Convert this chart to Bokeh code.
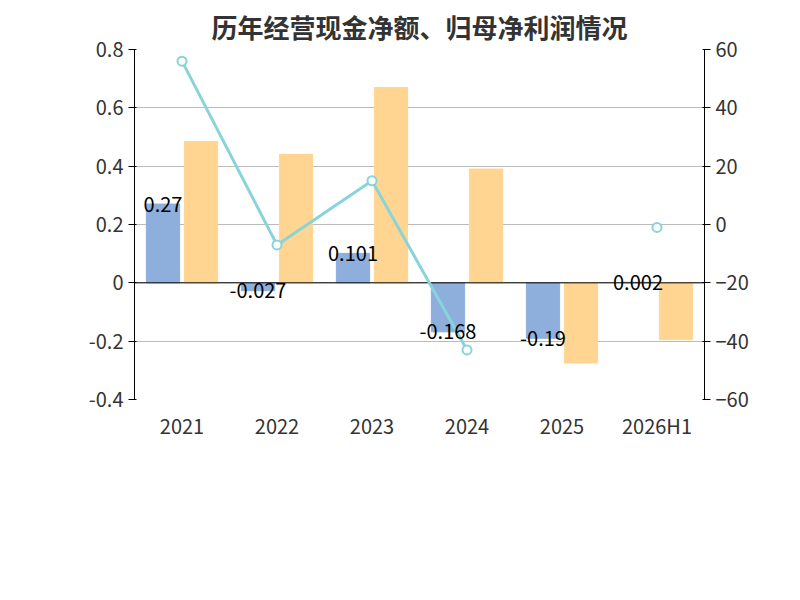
from bokeh.plotting import figure
from bokeh.models import Range1d, LinearAxis, Legend, LegendItem, Title, Label, ColumnDataSource, FixedTicker
from bokeh.embed import file_html
from bokeh.resources import INLINE
import math

years = ["2021", "2022", "2023", "2024", "2025", "2026H1"]
cash = [0.27, -0.027, 0.101, -0.168, -0.19, 0.002]
profit = [0.485, 0.44, 0.67, 0.39, -0.275, -0.195]
ratio = [56, -7, 15, -43, float("nan"), -1]

F = "Noto Sans CJK SC"
xs = list(range(len(years)))
p = figure(frame_width=570, frame_height=350, output_backend="svg", toolbar_location=None,
           x_range=Range1d(-0.5, 5.5), y_range=Range1d(-0.4, 0.8),
           min_border_left=134, min_border_right=80, min_border_top=30, min_border_bottom=10)
p.extra_y_ranges = {"r": Range1d(-60, 60)}
p.outline_line_color = None
p.title = Title(text="历年经营现金净额、归母净利润情况", align="center", text_font=F,
                text_font_size="26px", text_font_style="bold", text_color="#333333")

b1 = p.vbar(x=[x - 0.2 for x in xs], top=cash, width=0.35, color="#8eaedb")
b2 = p.vbar(x=[x + 0.2 for x in xs], top=profit, width=0.35, color="#ffd591")
p.line(x=[-0.5, 5.5], y=[0, 0], color="black", line_width=1)
l = p.line(x=xs, y=ratio, y_range_name="r", color="#89d4d8", line_width=3)
c = p.scatter(x=xs, y=ratio, y_range_name="r", size=9, fill_color="white", line_color="#89d4d8", line_width=2)
src = ColumnDataSource(dict(x=[x - 0.2 for x in xs], y=cash, t=[str(v) for v in cash]))
p.text(x="x", y="y", text="t", source=src, text_align="center", text_baseline="middle",
       text_font_size="20px", text_color="black", text_font={"value": F})

p.xaxis.ticker = FixedTicker(ticks=xs)
p.xaxis.major_label_overrides = {i: y for i, y in enumerate(years)}
p.xaxis.axis_line_color = None
p.xaxis.major_tick_line_color = None
p.yaxis.ticker = FixedTicker(ticks=[-0.4, -0.2, 0, 0.2, 0.4, 0.6, 0.8])
p.yaxis.major_label_overrides = {-0.4: "-0.4", -0.2: "-0.2", 0: "0", 0.2: "0.2", 0.4: "0.4", 0.6: "0.6", 0.8: "0.8"}
ra = LinearAxis(y_range_name="r", ticker=FixedTicker(ticks=[-60, -40, -20, 0, 20, 40, 60]))
p.add_layout(ra, "right")
for ax in [p.xaxis[0], p.yaxis[0], ra]:
    ax.major_label_text_font = F
    ax.major_label_text_font_size = "20px"
    ax.major_label_text_color = "#333333"
    ax.minor_tick_line_color = None
for ax in [p.yaxis[0], ra]:
    ax.axis_line_color = "black"
    ax.major_tick_line_color = "black"
p.xgrid.grid_line_color = None
p.ygrid.grid_line_color = "#bbbbbb"

leg = Legend(items=[LegendItem(label="经营活动现金流净额", renderers=[b1]),
                    LegendItem(label="归母净利润", renderers=[b2]),
                    LegendItem(label="净现比", renderers=[l, c])],
             orientation="horizontal", label_text_font=F,
             label_text_font_size="20px", label_text_color="#333333", border_line_color=None,
             glyph_width=50, glyph_height=26, spacing=30, margin=15)
p.add_layout(leg, "below")
p.add_layout(Title(text="制图数据来自恒生聚源数据库", align="center", text_font=F,
                   text_font_size="15px", text_font_style="normal", text_color="#c8951e"), "below")
p.add_layout(Label(x=-62, y=330, x_units="screen", y_units="screen", text="(亿元)", angle=-math.pi/2,
                   text_color="red", text_font=F, text_font_size="16px"))
p.add_layout(Label(x=645, y=345, x_units="screen", y_units="screen", text="%", angle=-math.pi/2,
                   text_color="red", text_font=F, text_font_size="16px"))

open("out.html", "w").write(file_html(p, INLINE))
